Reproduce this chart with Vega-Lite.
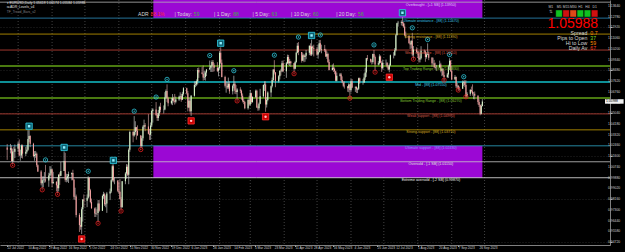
{
"$schema":"https://vega.github.io/schema/vega-lite/v6.json",
"width":610,"height":245,"autosize":{"type":"none"},"padding":{"left":0,"top":0,"right":15,"bottom":7},
"background":"#000000",
"config":{"view":{"stroke":null},"text":{"font":"Liberation Sans"},"axis":{"labelFont":"Liberation Sans","labelFontSize":3.4,"labelColor":"#d0d0d0","labelPadding":1,"tickSize":2,"tickColor":"#a0a0a0","domainColor":"#a0a0a0","domainWidth":0.8,"labelOverlap":false,"labelSeparation":0}},
"resolve":{"scale":{"color":"independent"}},
"datasets":{
"candles":[
{"d":"2022-07-22","o":1.0230,"h":1.0257,"l":1.0130,"c":1.0212},
{"d":"2022-07-25","o":1.0212,"h":1.0258,"l":1.0182,"c":1.0223},
{"d":"2022-07-26","o":1.0223,"h":1.0247,"l":1.0117,"c":1.0121},
{"d":"2022-07-27","o":1.0121,"h":1.0220,"l":1.0097,"c":1.0198},
{"d":"2022-07-28","o":1.0198,"h":1.0235,"l":1.0114,"c":1.0196},
{"d":"2022-07-29","o":1.0196,"h":1.0254,"l":1.0145,"c":1.0220},
{"d":"2022-08-01","o":1.0220,"h":1.0274,"l":1.0194,"c":1.0260},
{"d":"2022-08-02","o":1.0260,"h":1.0294,"l":1.0160,"c":1.0165},
{"d":"2022-08-03","o":1.0165,"h":1.0212,"l":1.0123,"c":1.0166},
{"d":"2022-08-04","o":1.0166,"h":1.0254,"l":1.0146,"c":1.0246},
{"d":"2022-08-05","o":1.0246,"h":1.0253,"l":1.0141,"c":1.0180},
{"d":"2022-08-08","o":1.0180,"h":1.0235,"l":1.0160,"c":1.0196},
{"d":"2022-08-09","o":1.0196,"h":1.0248,"l":1.0181,"c":1.0211},
{"d":"2022-08-10","o":1.0211,"h":1.0368,"l":1.0202,"c":1.0298},
{"d":"2022-08-11","o":1.0298,"h":1.0368,"l":1.0272,"c":1.0321},
{"d":"2022-08-12","o":1.0321,"h":1.0328,"l":1.0232,"c":1.0259},
{"d":"2022-08-15","o":1.0259,"h":1.0267,"l":1.0151,"c":1.0161},
{"d":"2022-08-16","o":1.0161,"h":1.0201,"l":1.0123,"c":1.0171},
{"d":"2022-08-17","o":1.0171,"h":1.0202,"l":1.0147,"c":1.0179},
{"d":"2022-08-18","o":1.0179,"h":1.0190,"l":1.0072,"c":1.0087},
{"d":"2022-08-19","o":1.0087,"h":1.0094,"l":1.0033,"c":1.0038},
{"d":"2022-08-22","o":1.0038,"h":1.0048,"l":0.9926,"c":0.9943},
{"d":"2022-08-23","o":0.9943,"h":0.9998,"l":0.9900,"c":0.9967},
{"d":"2022-08-24","o":0.9967,"h":0.9999,"l":0.9910,"c":0.9971},
{"d":"2022-08-25","o":0.9971,"h":1.0032,"l":0.9947,"c":0.9973},
{"d":"2022-08-26","o":0.9973,"h":1.0090,"l":0.9950,"c":0.9965},
{"d":"2022-08-29","o":0.9965,"h":1.0027,"l":0.9914,"c":1.0004},
{"d":"2022-08-30","o":1.0004,"h":1.0080,"l":0.9982,"c":1.0020},
{"d":"2022-08-31","o":1.0020,"h":1.0079,"l":1.0004,"c":1.0055},
{"d":"2022-09-01","o":1.0055,"h":1.0055,"l":0.9910,"c":0.9944},
{"d":"2022-09-02","o":0.9944,"h":1.0034,"l":0.9937,"c":0.9953},
{"d":"2022-09-05","o":0.9953,"h":0.9960,"l":0.9877,"c":0.9926},
{"d":"2022-09-06","o":0.9926,"h":0.9990,"l":0.9864,"c":0.9902},
{"d":"2022-09-07","o":0.9902,"h":1.0012,"l":0.9877,"c":1.0012},
{"d":"2022-09-08","o":1.0012,"h":1.0030,"l":0.9930,"c":1.0003},
{"d":"2022-09-09","o":1.0003,"h":1.0113,"l":1.0000,"c":1.0042},
{"d":"2022-09-12","o":1.0042,"h":1.0198,"l":1.0042,"c":1.0121},
{"d":"2022-09-13","o":1.0121,"h":1.0187,"l":0.9955,"c":0.9971},
{"d":"2022-09-14","o":0.9971,"h":1.0019,"l":0.9950,"c":0.9982},
{"d":"2022-09-15","o":0.9982,"h":1.0017,"l":0.9955,"c":0.9999},
{"d":"2022-09-16","o":0.9999,"h":1.0036,"l":0.9945,"c":1.0015},
{"d":"2022-09-19","o":1.0015,"h":1.0030,"l":0.9966,"c":1.0025},
{"d":"2022-09-20","o":1.0025,"h":1.0051,"l":0.9966,"c":0.9970},
{"d":"2022-09-21","o":0.9970,"h":0.9976,"l":0.9812,"c":0.9834},
{"d":"2022-09-22","o":0.9834,"h":0.9907,"l":0.9808,"c":0.9837},
{"d":"2022-09-23","o":0.9837,"h":0.9852,"l":0.9669,"c":0.9689},
{"d":"2022-09-26","o":0.9689,"h":0.9703,"l":0.9552,"c":0.9607},
{"d":"2022-09-27","o":0.9607,"h":0.9671,"l":0.9570,"c":0.9594},
{"d":"2022-09-28","o":0.9594,"h":0.9750,"l":0.9536,"c":0.9735},
{"d":"2022-09-29","o":0.9735,"h":0.9815,"l":0.9635,"c":0.9813},
{"d":"2022-09-30","o":0.9813,"h":0.9853,"l":0.9752,"c":0.9802},
{"d":"2022-10-03","o":0.9802,"h":0.9853,"l":0.9751,"c":0.9826},
{"d":"2022-10-04","o":0.9826,"h":0.9999,"l":0.9818,"c":0.9986},
{"d":"2022-10-05","o":0.9986,"h":0.9992,"l":0.9836,"c":0.9886},
{"d":"2022-10-06","o":0.9886,"h":0.9898,"l":0.9782,"c":0.9792},
{"d":"2022-10-07","o":0.9792,"h":0.9820,"l":0.9740,"c":0.9741},
{"d":"2022-10-10","o":0.9741,"h":0.9748,"l":0.9672,"c":0.9700},
{"d":"2022-10-11","o":0.9700,"h":0.9750,"l":0.9672,"c":0.9705},
{"d":"2022-10-12","o":0.9705,"h":0.9734,"l":0.9688,"c":0.9704},
{"d":"2022-10-13","o":0.9704,"h":0.9808,"l":0.9632,"c":0.9781},
{"d":"2022-10-14","o":0.9781,"h":0.9808,"l":0.9714,"c":0.9722},
{"d":"2022-10-17","o":0.9722,"h":0.9852,"l":0.9720,"c":0.9840},
{"d":"2022-10-18","o":0.9840,"h":0.9874,"l":0.9818,"c":0.9855},
{"d":"2022-10-19","o":0.9855,"h":0.9866,"l":0.9760,"c":0.9774},
{"d":"2022-10-20","o":0.9774,"h":0.9845,"l":0.9750,"c":0.9781},
{"d":"2022-10-21","o":0.9781,"h":0.9873,"l":0.9705,"c":0.9861},
{"d":"2022-10-24","o":0.9861,"h":0.9900,"l":0.9808,"c":0.9876},
{"d":"2022-10-25","o":0.9876,"h":0.9976,"l":0.9864,"c":0.9966},
{"d":"2022-10-26","o":0.9966,"h":1.0093,"l":0.9956,"c":1.0079},
{"d":"2022-10-27","o":1.0079,"h":1.0094,"l":0.9950,"c":0.9964},
{"d":"2022-10-28","o":0.9964,"h":0.9990,"l":0.9935,"c":0.9965},
{"d":"2022-10-31","o":0.9965,"h":0.9966,"l":0.9871,"c":0.9883},
{"d":"2022-11-01","o":0.9883,"h":0.9954,"l":0.9857,"c":0.9875},
{"d":"2022-11-02","o":0.9875,"h":0.9976,"l":0.9815,"c":0.9815},
{"d":"2022-11-03","o":0.9815,"h":0.9832,"l":0.9730,"c":0.9751},
{"d":"2022-11-04","o":0.9751,"h":0.9961,"l":0.9747,"c":0.9959},
{"d":"2022-11-07","o":0.9959,"h":1.0032,"l":0.9935,"c":1.0021},
{"d":"2022-11-08","o":1.0021,"h":1.0096,"l":0.9979,"c":1.0075},
{"d":"2022-11-09","o":1.0075,"h":1.0093,"l":1.0000,"c":1.0011},
{"d":"2022-11-10","o":1.0011,"h":1.0223,"l":0.9935,"c":1.0211},
{"d":"2022-11-11","o":1.0211,"h":1.0365,"l":1.0195,"c":1.0353},
{"d":"2022-11-14","o":1.0353,"h":1.0364,"l":1.0271,"c":1.0325},
{"d":"2022-11-15","o":1.0325,"h":1.0481,"l":1.0316,"c":1.0353},
{"d":"2022-11-16","o":1.0353,"h":1.0440,"l":1.0332,"c":1.0392},
{"d":"2022-11-17","o":1.0392,"h":1.0394,"l":1.0292,"c":1.0363},
{"d":"2022-11-18","o":1.0363,"h":1.0407,"l":1.0325,"c":1.0326},
{"d":"2022-11-21","o":1.0326,"h":1.0330,"l":1.0223,"c":1.0242},
{"d":"2022-11-22","o":1.0242,"h":1.0322,"l":1.0226,"c":1.0303},
{"d":"2022-11-23","o":1.0303,"h":1.0407,"l":1.0283,"c":1.0396},
{"d":"2022-11-24","o":1.0396,"h":1.0453,"l":1.0378,"c":1.0407},
{"d":"2022-11-25","o":1.0407,"h":1.0425,"l":1.0360,"c":1.0398},
{"d":"2022-11-28","o":1.0398,"h":1.0497,"l":1.0334,"c":1.0340},
{"d":"2022-11-29","o":1.0340,"h":1.0379,"l":1.0290,"c":1.0331},
{"d":"2022-11-30","o":1.0331,"h":1.0430,"l":1.0290,"c":1.0405},
{"d":"2022-12-01","o":1.0405,"h":1.0534,"l":1.0395,"c":1.0522},
{"d":"2022-12-02","o":1.0522,"h":1.0545,"l":1.0429,"c":1.0535},
{"d":"2022-12-05","o":1.0535,"h":1.0594,"l":1.0482,"c":1.0490},
{"d":"2022-12-06","o":1.0490,"h":1.0505,"l":1.0443,"c":1.0467},
{"d":"2022-12-07","o":1.0467,"h":1.0530,"l":1.0443,"c":1.0505},
{"d":"2022-12-08","o":1.0505,"h":1.0564,"l":1.0481,"c":1.0555},
{"d":"2022-12-09","o":1.0555,"h":1.0588,"l":1.0511,"c":1.0532},
{"d":"2022-12-12","o":1.0532,"h":1.0567,"l":1.0502,"c":1.0535},
{"d":"2022-12-13","o":1.0535,"h":1.0673,"l":1.0528,"c":1.0631},
{"d":"2022-12-14","o":1.0631,"h":1.0695,"l":1.0621,"c":1.0682},
{"d":"2022-12-15","o":1.0682,"h":1.0736,"l":1.0594,"c":1.0625},
{"d":"2022-12-16","o":1.0625,"h":1.0637,"l":1.0560,"c":1.0585},
{"d":"2022-12-19","o":1.0585,"h":1.0628,"l":1.0574,"c":1.0605},
{"d":"2022-12-20","o":1.0605,"h":1.0658,"l":1.0569,"c":1.0624},
{"d":"2022-12-21","o":1.0624,"h":1.0636,"l":1.0590,"c":1.0604},
{"d":"2022-12-22","o":1.0604,"h":1.0659,"l":1.0574,"c":1.0596},
{"d":"2022-12-23","o":1.0596,"h":1.0638,"l":1.0584,"c":1.0614},
{"d":"2022-12-26","o":1.0614,"h":1.0645,"l":1.0603,"c":1.0637},
{"d":"2022-12-27","o":1.0637,"h":1.0672,"l":1.0619,"c":1.0640},
{"d":"2022-12-28","o":1.0640,"h":1.0659,"l":1.0596,"c":1.0613},
{"d":"2022-12-29","o":1.0613,"h":1.0676,"l":1.0612,"c":1.0660},
{"d":"2022-12-30","o":1.0660,"h":1.0713,"l":1.0646,"c":1.0705},
{"d":"2023-01-02","o":1.0705,"h":1.0709,"l":1.0654,"c":1.0665},
{"d":"2023-01-03","o":1.0665,"h":1.0683,"l":1.0519,"c":1.0550},
{"d":"2023-01-04","o":1.0550,"h":1.0630,"l":1.0545,"c":1.0604},
{"d":"2023-01-05","o":1.0604,"h":1.0622,"l":1.0510,"c":1.0520},
{"d":"2023-01-06","o":1.0520,"h":1.0650,"l":1.0483,"c":1.0645},
{"d":"2023-01-09","o":1.0645,"h":1.0760,"l":1.0637,"c":1.0730},
{"d":"2023-01-10","o":1.0730,"h":1.0760,"l":1.0713,"c":1.0735},
{"d":"2023-01-11","o":1.0735,"h":1.0776,"l":1.0722,"c":1.0760},
{"d":"2023-01-12","o":1.0760,"h":1.0867,"l":1.0735,"c":1.0850},
{"d":"2023-01-13","o":1.0850,"h":1.0871,"l":1.0788,"c":1.0830},
{"d":"2023-01-16","o":1.0830,"h":1.0874,"l":1.0816,"c":1.0820},
{"d":"2023-01-17","o":1.0820,"h":1.0887,"l":1.0766,"c":1.0790},
{"d":"2023-01-18","o":1.0790,"h":1.0845,"l":1.0771,"c":1.0795},
{"d":"2023-01-19","o":1.0795,"h":1.0842,"l":1.0766,"c":1.0830},
{"d":"2023-01-20","o":1.0830,"h":1.0858,"l":1.0802,"c":1.0855},
{"d":"2023-01-23","o":1.0855,"h":1.0927,"l":1.0853,"c":1.0870},
{"d":"2023-01-24","o":1.0870,"h":1.0890,"l":1.0835,"c":1.0885},
{"d":"2023-01-25","o":1.0885,"h":1.0929,"l":1.0835,"c":1.0915},
{"d":"2023-01-26","o":1.0915,"h":1.0931,"l":1.0836,"c":1.0890},
{"d":"2023-01-27","o":1.0890,"h":1.0905,"l":1.0840,"c":1.0870},
{"d":"2023-01-30","o":1.0870,"h":1.0914,"l":1.0834,"c":1.0845},
{"d":"2023-01-31","o":1.0845,"h":1.0875,"l":1.0800,"c":1.0865},
{"d":"2023-02-01","o":1.0865,"h":1.1000,"l":1.0855,"c":1.0990},
{"d":"2023-02-02","o":1.0990,"h":1.1033,"l":1.0900,"c":1.0910},
{"d":"2023-02-03","o":1.0910,"h":1.0935,"l":1.0792,"c":1.0795},
{"d":"2023-02-06","o":1.0795,"h":1.0805,"l":1.0710,"c":1.0725},
{"d":"2023-02-07","o":1.0725,"h":1.0760,"l":1.0669,"c":1.0725},
{"d":"2023-02-08","o":1.0725,"h":1.0755,"l":1.0698,"c":1.0710},
{"d":"2023-02-09","o":1.0710,"h":1.0790,"l":1.0698,"c":1.0740},
{"d":"2023-02-10","o":1.0740,"h":1.0760,"l":1.0660,"c":1.0680},
{"d":"2023-02-13","o":1.0680,"h":1.0735,"l":1.0655,"c":1.0725},
{"d":"2023-02-14","o":1.0725,"h":1.0805,"l":1.0704,"c":1.0740},
{"d":"2023-02-15","o":1.0740,"h":1.0758,"l":1.0660,"c":1.0685},
{"d":"2023-02-16","o":1.0685,"h":1.0730,"l":1.0657,"c":1.0675},
{"d":"2023-02-17","o":1.0675,"h":1.0705,"l":1.0613,"c":1.0695},
{"d":"2023-02-20","o":1.0695,"h":1.0713,"l":1.0665,"c":1.0685},
{"d":"2023-02-21","o":1.0685,"h":1.0694,"l":1.0612,"c":1.0645},
{"d":"2023-02-22","o":1.0645,"h":1.0663,"l":1.0591,"c":1.0605},
{"d":"2023-02-23","o":1.0605,"h":1.0622,"l":1.0577,"c":1.0595},
{"d":"2023-02-24","o":1.0595,"h":1.0604,"l":1.0536,"c":1.0545},
{"d":"2023-02-27","o":1.0545,"h":1.0622,"l":1.0533,"c":1.0610},
{"d":"2023-02-28","o":1.0610,"h":1.0645,"l":1.0564,"c":1.0575},
{"d":"2023-03-01","o":1.0575,"h":1.0691,"l":1.0565,"c":1.0665},
{"d":"2023-03-02","o":1.0665,"h":1.0669,"l":1.0580,"c":1.0595},
{"d":"2023-03-03","o":1.0595,"h":1.0640,"l":1.0588,"c":1.0635},
{"d":"2023-03-06","o":1.0635,"h":1.0694,"l":1.0626,"c":1.0685},
{"d":"2023-03-07","o":1.0685,"h":1.0693,"l":1.0547,"c":1.0550},
{"d":"2023-03-08","o":1.0550,"h":1.0565,"l":1.0524,"c":1.0545},
{"d":"2023-03-09","o":1.0545,"h":1.0590,"l":1.0527,"c":1.0580},
{"d":"2023-03-10","o":1.0580,"h":1.0700,"l":1.0576,"c":1.0640},
{"d":"2023-03-13","o":1.0640,"h":1.0735,"l":1.0630,"c":1.0730},
{"d":"2023-03-14","o":1.0730,"h":1.0760,"l":1.0683,"c":1.0735},
{"d":"2023-03-15","o":1.0735,"h":1.0760,"l":1.0516,"c":1.0575},
{"d":"2023-03-16","o":1.0575,"h":1.0633,"l":1.0550,"c":1.0610},
{"d":"2023-03-17","o":1.0610,"h":1.0680,"l":1.0600,"c":1.0670},
{"d":"2023-03-20","o":1.0670,"h":1.0727,"l":1.0635,"c":1.0720},
{"d":"2023-03-21","o":1.0720,"h":1.0790,"l":1.0710,"c":1.0770},
{"d":"2023-03-22","o":1.0770,"h":1.0856,"l":1.0757,"c":1.0855},
{"d":"2023-03-23","o":1.0855,"h":1.0930,"l":1.0815,"c":1.0830},
{"d":"2023-03-24","o":1.0830,"h":1.0835,"l":1.0713,"c":1.0760},
{"d":"2023-03-27","o":1.0760,"h":1.0810,"l":1.0750,"c":1.0800},
{"d":"2023-03-28","o":1.0800,"h":1.0847,"l":1.0775,"c":1.0845},
{"d":"2023-03-29","o":1.0845,"h":1.0860,"l":1.0807,"c":1.0840},
{"d":"2023-03-30","o":1.0840,"h":1.0925,"l":1.0833,"c":1.0905},
{"d":"2023-03-31","o":1.0905,"h":1.0927,"l":1.0835,"c":1.0840},
{"d":"2023-04-03","o":1.0840,"h":1.0915,"l":1.0788,"c":1.0905},
{"d":"2023-04-04","o":1.0905,"h":1.0974,"l":1.0898,"c":1.0955},
{"d":"2023-04-05","o":1.0955,"h":1.0972,"l":1.0893,"c":1.0905},
{"d":"2023-04-06","o":1.0905,"h":1.0940,"l":1.0883,"c":1.0920},
{"d":"2023-04-07","o":1.0920,"h":1.0925,"l":1.0876,"c":1.0905},
{"d":"2023-04-10","o":1.0905,"h":1.0907,"l":1.0831,"c":1.0860},
{"d":"2023-04-11","o":1.0860,"h":1.0925,"l":1.0856,"c":1.0915},
{"d":"2023-04-12","o":1.0915,"h":1.0998,"l":1.0905,"c":1.0990},
{"d":"2023-04-13","o":1.0990,"h":1.1068,"l":1.0985,"c":1.1045},
{"d":"2023-04-14","o":1.1045,"h":1.1075,"l":1.0970,"c":1.0995},
{"d":"2023-04-17","o":1.0995,"h":1.0996,"l":1.0910,"c":1.0925},
{"d":"2023-04-18","o":1.0925,"h":1.0985,"l":1.0925,"c":1.0970},
{"d":"2023-04-19","o":1.0970,"h":1.0980,"l":1.0913,"c":1.0955},
{"d":"2023-04-20","o":1.0955,"h":1.0975,"l":1.0917,"c":1.0965},
{"d":"2023-04-21","o":1.0965,"h":1.1012,"l":1.0937,"c":1.0990},
{"d":"2023-04-24","o":1.0990,"h":1.1048,"l":1.0970,"c":1.1045},
{"d":"2023-04-25","o":1.1045,"h":1.1065,"l":1.0965,"c":1.0975},
{"d":"2023-04-26","o":1.0975,"h":1.1095,"l":1.0963,"c":1.1040},
{"d":"2023-04-27","o":1.1040,"h":1.1047,"l":1.0975,"c":1.1025},
{"d":"2023-04-28","o":1.1025,"h":1.1054,"l":1.0960,"c":1.1020},
{"d":"2023-05-01","o":1.1020,"h":1.1036,"l":1.0965,"c":1.0975},
{"d":"2023-05-02","o":1.0975,"h":1.1056,"l":1.0942,"c":1.0995},
{"d":"2023-05-03","o":1.0995,"h":1.1091,"l":1.0990,"c":1.1065},
{"d":"2023-05-04","o":1.1065,"h":1.1092,"l":1.1000,"c":1.1015},
{"d":"2023-05-05","o":1.1015,"h":1.1054,"l":1.0985,"c":1.1020},
{"d":"2023-05-08","o":1.1020,"h":1.1052,"l":1.0995,"c":1.1010},
{"d":"2023-05-09","o":1.1010,"h":1.1021,"l":1.0955,"c":1.0960},
{"d":"2023-05-10","o":1.0960,"h":1.1000,"l":1.0940,"c":1.0980},
{"d":"2023-05-11","o":1.0980,"h":1.0989,"l":1.0907,"c":1.0915},
{"d":"2023-05-12","o":1.0915,"h":1.0935,"l":1.0847,"c":1.0850},
{"d":"2023-05-15","o":1.0850,"h":1.0895,"l":1.0847,"c":1.0870},
{"d":"2023-05-16","o":1.0870,"h":1.0904,"l":1.0835,"c":1.0860},
{"d":"2023-05-17","o":1.0860,"h":1.0872,"l":1.0817,"c":1.0840},
{"d":"2023-05-18","o":1.0840,"h":1.0846,"l":1.0760,"c":1.0765},
{"d":"2023-05-19","o":1.0765,"h":1.0830,"l":1.0760,"c":1.0805},
{"d":"2023-05-22","o":1.0805,"h":1.0827,"l":1.0799,"c":1.0815},
{"d":"2023-05-23","o":1.0815,"h":1.0828,"l":1.0760,"c":1.0770},
{"d":"2023-05-24","o":1.0770,"h":1.0800,"l":1.0745,"c":1.0750},
{"d":"2023-05-25","o":1.0750,"h":1.0760,"l":1.0713,"c":1.0725},
{"d":"2023-05-26","o":1.0725,"h":1.0760,"l":1.0702,"c":1.0720},
{"d":"2023-05-29","o":1.0720,"h":1.0720,"l":1.0676,"c":1.0705},
{"d":"2023-05-30","o":1.0705,"h":1.0745,"l":1.0673,"c":1.0735},
{"d":"2023-05-31","o":1.0735,"h":1.0740,"l":1.0635,"c":1.0690},
{"d":"2023-06-01","o":1.0690,"h":1.0780,"l":1.0672,"c":1.0760},
{"d":"2023-06-02","o":1.0760,"h":1.0779,"l":1.0705,"c":1.0710},
{"d":"2023-06-05","o":1.0710,"h":1.0720,"l":1.0675,"c":1.0715},
{"d":"2023-06-06","o":1.0715,"h":1.0720,"l":1.0667,"c":1.0695},
{"d":"2023-06-07","o":1.0695,"h":1.0710,"l":1.0666,"c":1.0700},
{"d":"2023-06-08","o":1.0700,"h":1.0790,"l":1.0690,"c":1.0785},
{"d":"2023-06-09","o":1.0785,"h":1.0790,"l":1.0740,"c":1.0750},
{"d":"2023-06-12","o":1.0750,"h":1.0780,"l":1.0733,"c":1.0750},
{"d":"2023-06-13","o":1.0750,"h":1.0823,"l":1.0748,"c":1.0790},
{"d":"2023-06-14","o":1.0790,"h":1.0865,"l":1.0772,"c":1.0830},
{"d":"2023-06-15","o":1.0830,"h":1.0948,"l":1.0796,"c":1.0945},
{"d":"2023-06-16","o":1.0945,"h":1.0971,"l":1.0926,"c":1.0940},
{"d":"2023-06-19","o":1.0940,"h":1.0943,"l":1.0910,"c":1.0920},
{"d":"2023-06-20","o":1.0920,"h":1.0935,"l":1.0895,"c":1.0915},
{"d":"2023-06-21","o":1.0915,"h":1.0982,"l":1.0902,"c":1.0980},
{"d":"2023-06-22","o":1.0980,"h":1.1012,"l":1.0945,"c":1.0955},
{"d":"2023-06-23","o":1.0955,"h":1.0967,"l":1.0844,"c":1.0895},
{"d":"2023-06-26","o":1.0895,"h":1.0922,"l":1.0888,"c":1.0905},
{"d":"2023-06-27","o":1.0905,"h":1.0977,"l":1.0894,"c":1.0960},
{"d":"2023-06-28","o":1.0960,"h":1.0968,"l":1.0906,"c":1.0910},
{"d":"2023-06-29","o":1.0910,"h":1.0922,"l":1.0835,"c":1.0865},
{"d":"2023-06-30","o":1.0865,"h":1.0934,"l":1.0854,"c":1.0910},
{"d":"2023-07-03","o":1.0910,"h":1.0935,"l":1.0887,"c":1.0910},
{"d":"2023-07-04","o":1.0910,"h":1.0913,"l":1.0868,"c":1.0880},
{"d":"2023-07-05","o":1.0880,"h":1.0890,"l":1.0850,"c":1.0855},
{"d":"2023-07-06","o":1.0855,"h":1.0903,"l":1.0833,"c":1.0890},
{"d":"2023-07-07","o":1.0890,"h":1.0975,"l":1.0883,"c":1.0970},
{"d":"2023-07-10","o":1.0970,"h":1.0994,"l":1.0944,"c":1.0970},
{"d":"2023-07-11","o":1.0970,"h":1.1027,"l":1.0963,"c":1.1010},
{"d":"2023-07-12","o":1.1010,"h":1.1139,"l":1.1000,"c":1.1130},
{"d":"2023-07-13","o":1.1130,"h":1.1230,"l":1.1128,"c":1.1225},
{"d":"2023-07-14","o":1.1225,"h":1.1245,"l":1.1199,"c":1.1230},
{"d":"2023-07-17","o":1.1230,"h":1.1249,"l":1.1208,"c":1.1235},
{"d":"2023-07-18","o":1.1235,"h":1.1276,"l":1.1202,"c":1.1225},
{"d":"2023-07-19","o":1.1225,"h":1.1236,"l":1.1190,"c":1.1200},
{"d":"2023-07-20","o":1.1200,"h":1.1224,"l":1.1122,"c":1.1130},
{"d":"2023-07-21","o":1.1130,"h":1.1159,"l":1.1105,"c":1.1125},
{"d":"2023-07-24","o":1.1125,"h":1.1129,"l":1.1063,"c":1.1065},
{"d":"2023-07-25","o":1.1065,"h":1.1080,"l":1.1019,"c":1.1055},
{"d":"2023-07-26","o":1.1055,"h":1.1088,"l":1.1024,"c":1.1085},
{"d":"2023-07-27","o":1.1085,"h":1.1149,"l":1.0961,"c":1.0975},
{"d":"2023-07-28","o":1.0975,"h":1.1043,"l":1.0944,"c":1.1015},
{"d":"2023-07-31","o":1.1015,"h":1.1033,"l":1.0983,"c":1.0995},
{"d":"2023-08-01","o":1.0995,"h":1.1001,"l":1.0947,"c":1.0985},
{"d":"2023-08-02","o":1.0985,"h":1.1004,"l":1.0912,"c":1.0935},
{"d":"2023-08-03","o":1.0935,"h":1.0960,"l":1.0912,"c":1.0945},
{"d":"2023-08-04","o":1.0945,"h":1.1042,"l":1.0935,"c":1.1005},
{"d":"2023-08-07","o":1.1005,"h":1.1015,"l":1.0983,"c":1.1000},
{"d":"2023-08-08","o":1.1000,"h":1.1008,"l":1.0917,"c":1.0955},
{"d":"2023-08-09","o":1.0955,"h":1.0991,"l":1.0942,"c":1.0975},
{"d":"2023-08-10","o":1.0975,"h":1.1065,"l":1.0970,"c":1.0980},
{"d":"2023-08-11","o":1.0980,"h":1.1000,"l":1.0930,"c":1.0950},
{"d":"2023-08-14","o":1.0950,"h":1.0955,"l":1.0877,"c":1.0905},
{"d":"2023-08-15","o":1.0905,"h":1.0950,"l":1.0894,"c":1.0905},
{"d":"2023-08-16","o":1.0905,"h":1.0932,"l":1.0865,"c":1.0875},
{"d":"2023-08-17","o":1.0875,"h":1.0910,"l":1.0855,"c":1.0870},
{"d":"2023-08-18","o":1.0870,"h":1.0892,"l":1.0845,"c":1.0870},
{"d":"2023-08-21","o":1.0870,"h":1.0926,"l":1.0875,"c":1.0895},
{"d":"2023-08-22","o":1.0895,"h":1.0909,"l":1.0832,"c":1.0845},
{"d":"2023-08-23","o":1.0845,"h":1.0864,"l":1.0802,"c":1.0860},
{"d":"2023-08-24","o":1.0860,"h":1.0865,"l":1.0800,"c":1.0810},
{"d":"2023-08-25","o":1.0810,"h":1.0840,"l":1.0766,"c":1.0795},
{"d":"2023-08-28","o":1.0795,"h":1.0827,"l":1.0786,"c":1.0815},
{"d":"2023-08-29","o":1.0815,"h":1.0893,"l":1.0787,"c":1.0880},
{"d":"2023-08-30","o":1.0880,"h":1.0945,"l":1.0850,"c":1.0925},
{"d":"2023-08-31","o":1.0925,"h":1.0930,"l":1.0835,"c":1.0845},
{"d":"2023-09-01","o":1.0845,"h":1.0882,"l":1.0769,"c":1.0775},
{"d":"2023-09-04","o":1.0775,"h":1.0810,"l":1.0775,"c":1.0795},
{"d":"2023-09-05","o":1.0795,"h":1.0799,"l":1.0706,"c":1.0720},
{"d":"2023-09-06","o":1.0720,"h":1.0748,"l":1.0703,"c":1.0725},
{"d":"2023-09-07","o":1.0725,"h":1.0730,"l":1.0686,"c":1.0700},
{"d":"2023-09-08","o":1.0700,"h":1.0718,"l":1.0686,"c":1.0700},
{"d":"2023-09-11","o":1.0700,"h":1.0767,"l":1.0700,"c":1.0750},
{"d":"2023-09-12","o":1.0750,"h":1.0765,"l":1.0722,"c":1.0755},
{"d":"2023-09-13","o":1.0755,"h":1.0770,"l":1.0714,"c":1.0730},
{"d":"2023-09-14","o":1.0730,"h":1.0768,"l":1.0631,"c":1.0640},
{"d":"2023-09-15","o":1.0640,"h":1.0674,"l":1.0632,"c":1.0660},
{"d":"2023-09-18","o":1.0660,"h":1.0698,"l":1.0644,"c":1.0690},
{"d":"2023-09-19","o":1.0690,"h":1.0718,"l":1.0670,"c":1.0680},
{"d":"2023-09-20","o":1.0680,"h":1.0736,"l":1.0645,"c":1.0660},
{"d":"2023-09-21","o":1.0660,"h":1.0675,"l":1.0617,"c":1.0660},
{"d":"2023-09-22","o":1.0660,"h":1.0679,"l":1.0615,"c":1.0645},
{"d":"2023-09-25","o":1.0645,"h":1.0649,"l":1.0574,"c":1.0595},
{"d":"2023-09-26","o":1.0595,"h":1.0616,"l":1.0554,"c":1.0570},
{"d":"2023-09-27","o":1.0570,"h":1.0574,"l":1.0488,"c":1.0500},
{"d":"2023-09-28","o":1.0500,"h":1.0576,"l":1.0495,"c":1.0562},
{"d":"2023-09-29","o":1.05618,"h":1.06174,"l":1.05584,"c":1.05988}
],
"levels":[
{"p":1.1395,"k":"ob","label":"Overbought - [+1 SB] (1.13950)"},
{"p":1.1267,"k":"ur","label":"Ultimate resistance - [88] (1.12670)"},
{"p":1.1139,"k":"sr","label":"Strong resistance - [88] (1.11390)"},
{"p":1.1011,"k":"wr","label":"Weak resistance - [88] (1.10110)"},
{"p":1.0883,"k":"tr","label":"Top Trading Range - [88] (1.08830)"},
{"p":1.0755,"k":"mid","label":"Mid - [88] (1.07550)"},
{"p":1.0627,"k":"tr","label":"Bottom Trading Range - [88] (1.06270)"},
{"p":1.0499,"k":"wr","label":"Weak support - [88] (1.04990)"},
{"p":1.0371,"k":"sr","label":"Strong support - [88] (1.03710)"},
{"p":1.0243,"k":"us","label":"Ultimate support - [88] (1.02430)"},
{"p":1.0115,"k":"os","label":"Oversold - [-1 SB] (1.01150)"},
{"p":0.9987,"k":"eos","label":"Extreme oversold - [-2 SB] (0.99870)"}
],
"zones":[
{"d1":"2022-12-02T12:00","d2":"2023-09-29","p1":1.1267,"p2":1.1523},
{"d1":"2022-12-02T12:00","d2":"2023-09-29","p1":1.0243,"p2":0.9987}
],
"months":[
{"d":"2022-08-01"},{"d":"2022-09-01"},{"d":"2022-10-01"},{"d":"2022-11-01"},{"d":"2022-12-01"},
{"d":"2023-01-01"},{"d":"2023-02-01"},{"d":"2023-03-01"},{"d":"2023-04-01"},{"d":"2023-05-01"},
{"d":"2023-06-01"},{"d":"2023-07-01"},{"d":"2023-08-01"},{"d":"2023-09-01"},{"d":"2023-10-01"}
],
"xlabels":[
{"d":"2022-07-22"},{"d":"2022-08-10"},{"d":"2022-08-29"},{"d":"2022-09-16"},{"d":"2022-10-05"},{"d":"2022-10-24"},
{"d":"2022-11-11"},{"d":"2022-11-30"},{"d":"2022-12-19"},{"d":"2023-01-06"},{"d":"2023-01-26"},{"d":"2023-02-14"},
{"d":"2023-03-05"},{"d":"2023-03-23"},{"d":"2023-04-11"},{"d":"2023-04-28"},{"d":"2023-05-16"},{"d":"2023-06-04"},
{"d":"2023-06-25"},{"d":"2023-07-12"},{"d":"2023-08-01"},{"d":"2023-08-20"},{"d":"2023-09-07"},{"d":"2023-09-26"}
],
"ylabels":[
{"p":1.1364},{"p":1.1278},{"p":1.1192},{"p":1.1106},{"p":1.1020},{"p":1.0934},{"p":1.0848},{"p":1.0762},
{"p":1.0676},{"p":1.0590},{"p":1.0504},{"p":1.0418},{"p":1.0332},{"p":1.0246},{"p":1.0160},{"p":1.0074},
{"p":0.9988},{"p":0.9902},{"p":0.9816},{"p":0.9730},{"p":0.9644},{"p":0.9558},{"p":0.9472}
],
"marks":[
{"d":"2022-08-26","p":1.0130,"k":"hi"},
{"d":"2022-10-04","p":1.0039,"k":"hi"},
{"d":"2022-11-15","p":1.0521,"k":"hi"},
{"d":"2022-12-05","p":1.0634,"k":"hi"},
{"d":"2022-12-15","p":1.0776,"k":"hi"},
{"d":"2023-01-23","p":1.0967,"k":"hi"},
{"d":"2023-02-14","p":1.0845,"k":"hi"},
{"d":"2023-03-23","p":1.0970,"k":"hi"},
{"d":"2023-04-14","p":1.1115,"k":"hi"},
{"d":"2023-05-04","p":1.1132,"k":"hi"},
{"d":"2023-06-22","p":1.1052,"k":"hi"},
{"d":"2023-07-27","p":1.1189,"k":"hi"},
{"d":"2023-08-10","p":1.1095,"k":"hi"},
{"d":"2023-08-30","p":1.0975,"k":"hi"},
{"d":"2023-09-12","p":1.0797,"k":"hi"},
{"d":"2022-07-27","p":1.0087,"k":"lo"},
{"d":"2022-08-23","p":0.9890,"k":"lo"},
{"d":"2022-09-06","p":0.9854,"k":"lo"},
{"d":"2022-10-13","p":0.9622,"k":"lo"},
{"d":"2022-11-03","p":0.9720,"k":"lo"},
{"d":"2022-11-21","p":1.0213,"k":"lo"},
{"d":"2023-02-17","p":1.0603,"k":"lo"},
{"d":"2023-04-10","p":1.0821,"k":"lo"},
{"d":"2023-05-31","p":1.0625,"k":"lo"},
{"d":"2023-06-23","p":1.0834,"k":"lo"},
{"d":"2023-07-28","p":1.0938,"k":"lo"},
{"d":"2023-08-25","p":1.0770,"k":"lo"},
{"d":"2023-09-07","p":1.0690,"k":"lo"},
{"d":"2023-09-14","p":1.0636,"k":"lo"},
{"d":"2022-08-11","p":1.0400,"k":"hibox"},
{"d":"2022-09-12","p":1.0230,"k":"hibox"},
{"d":"2022-10-27","p":1.0126,"k":"hibox"},
{"d":"2023-02-02","p":1.1066,"k":"hibox"},
{"d":"2023-04-26","p":1.1128,"k":"hibox"},
{"d":"2023-07-18","p":1.1310,"k":"hibox"},
{"d":"2022-09-28","p":0.9496,"k":"lobox"},
{"d":"2023-01-06","p":1.0443,"k":"lobox"},
{"d":"2023-03-15","p":1.0476,"k":"lobox"},
{"d":"2023-07-06","p":1.0793,"k":"lobox"}
],
"head":[
{"d":"2022-07-21T12:00","p":1.1386,"t":"▾ EURUSD,Daily  1.05618 1.06174 1.05584 1.05988","k":"a"},
{"d":"2022-07-21T12:00","p":1.1354,"t":"scADR_Levels_v4","k":"a"},
{"d":"2022-07-21T12:00","p":1.1318,"t":"TF_Trend_Bars_v2","k":"b"}
],
"adr":[
{"d":"2022-11-29T02:00","p":1.1300,"label":"ADR","value":"88.1%","k":"red"},
{"d":"2023-01-07T14:00","p":1.1300,"label":"| Today:","value":"59","k":"green"},
{"d":"2023-02-12T12:00","p":1.1300,"label":"| 1 Day:","value":"88","k":"green"},
{"d":"2023-03-19T14:00","p":1.1300,"label":"| 5 Day:","value":"63","k":"green"},
{"d":"2023-04-26T07:00","p":1.1300,"label":"| 10 Day:","value":"60","k":"green"},
{"d":"2023-06-06T14:00","p":1.1300,"label":"| 20 Day:","value":"56","k":"green"}
],
"tf":[
{"tf":"M5","d1":"2023-12-05","d2":"2023-12-11","dm":"2023-12-08","state":"up"},
{"tf":"M15","d1":"2023-12-11T12:00","d2":"2023-12-17T12:00","dm":"2023-12-14T12:00","state":"down"},
{"tf":"M30","d1":"2023-12-18","d2":"2023-12-24","dm":"2023-12-21","state":"weak"},
{"tf":"H1","d1":"2023-12-24T12:00","d2":"2023-12-30T12:00","dm":"2023-12-27T12:00","state":"up"},
{"tf":"H4","d1":"2023-12-31","d2":"2024-01-06","dm":"2024-01-03","state":"up"},
{"tf":"D1","d1":"2024-01-06T12:00","d2":"2024-01-12T12:00","dm":"2024-01-09T12:00","state":"down"}
],
"info":[
{"d":"2024-01-04T05:00","p":1.1148,"label":"Spread","value":"0.7","k":"orange"},
{"d":"2024-01-04T05:00","p":1.1108,"label":"Pips to Open","value":"37","k":"green"},
{"d":"2024-01-04T05:00","p":1.1068,"label":"Hi to Low","value":"59","k":"orange"},
{"d":"2024-01-04T05:00","p":1.1028,"label":"Daily Av","value":"67","k":"red"}
],
"last":[
{"d":"2024-01-12T16:00","dt":"2024-01-19","dt2":"2024-02-05","p":1.05988,"p1":1.05808,"p2":1.06168}
]
},
"layer":[
{"data":{"name":"months"},"mark":{"type":"rule","strokeDash":[1,2],"color":"#6e6e6e","strokeWidth":0.6},
 "encoding":{"x":{"field":"d","type":"temporal"}}},
{"data":{"name":"zones"},"mark":{"type":"rect","color":"#9b08d4","clip":true},
 "encoding":{"x":{"field":"d1","type":"temporal"},"x2":{"field":"d2"},"y":{"field":"p1","type":"quantitative"},"y2":{"field":"p2"}}},
{"data":{"name":"levels"},"transform":[{"filter":{"not":{"field":"k","oneOf":["tr","mid"]}}}],
 "mark":{"type":"rule","strokeWidth":0.8},
 "encoding":{"y":{"field":"p","type":"quantitative"},
  "color":{"field":"k","type":"nominal","legend":null,"scale":{"domain":["ob","ur","sr","wr","us","os","eos"],"range":["#b4b4b4","#2f8fc0","#c9a000","#c8453a","#2fa8c8","#c8c8c8","#e8e8e8"]}}}},
{"data":{"name":"levels"},"transform":[{"filter":{"field":"k","oneOf":["tr","mid"]}}],
 "mark":{"type":"rule","strokeWidth":2},
 "encoding":{"y":{"field":"p","type":"quantitative"},
  "color":{"field":"k","type":"nominal","legend":null,"scale":{"domain":["tr","mid"],"range":["#4a7a10","#0e8f96"]}}}},
{"data":{"name":"candles"},"mark":{"type":"rule","strokeWidth":0.6},
 "encoding":{
  "x":{"field":"d","type":"temporal","scale":{"domain":[{"year":2022,"month":7,"date":20},{"year":2024,"month":1,"date":19}]},
   "axis":{"title":null,"values":[{"year":2022,"month":7,"date":22},{"year":2022,"month":8,"date":10},{"year":2022,"month":8,"date":29},{"year":2022,"month":9,"date":16},{"year":2022,"month":10,"date":5},{"year":2022,"month":10,"date":24},{"year":2022,"month":11,"date":11},{"year":2022,"month":11,"date":30},{"year":2022,"month":12,"date":19},{"year":2023,"month":1,"date":6},{"year":2023,"month":1,"date":26},{"year":2023,"month":2,"date":14},{"year":2023,"month":3,"date":5},{"year":2023,"month":3,"date":23},{"year":2023,"month":4,"date":11},{"year":2023,"month":4,"date":28},{"year":2023,"month":5,"date":16},{"year":2023,"month":6,"date":4},{"year":2023,"month":6,"date":25},{"year":2023,"month":7,"date":12},{"year":2023,"month":8,"date":1},{"year":2023,"month":8,"date":20},{"year":2023,"month":9,"date":7},{"year":2023,"month":9,"date":26}],
    "labels":false,"tickSize":1.5,"grid":false}},
  "y":{"field":"l","type":"quantitative","scale":{"domain":[0.94476,1.14123],"zero":false,"nice":false},
   "axis":{"title":null,"orient":"right","values":[1.1364,1.1278,1.1192,1.1106,1.102,1.0934,1.0848,1.0762,1.0676,1.059,1.0504,1.0418,1.0332,1.0246,1.016,1.0074,0.9988,0.9902,0.9816,0.973,0.9644,0.9558,0.9472],
    "labels":false,"grid":true,"gridColor":"#4a4a4a","gridDash":[1,2],"gridWidth":0.5}},
  "y2":{"field":"h"},
  "color":{"condition":{"test":"datum.c >= datum.o","value":"#dcdcdc"},"value":"#e8b0b0"}}},
{"data":{"name":"candles"},"mark":{"type":"bar","width":1.1},
 "encoding":{"x":{"field":"d","type":"temporal"},"y":{"field":"o","type":"quantitative"},"y2":{"field":"c"},
  "color":{"condition":{"test":"datum.c >= datum.o","value":"#d8f5c8"},"value":"#f4a0a0"}}},
{"data":{"name":"marks"},
 "encoding":{"x":{"field":"d","type":"temporal"},"y":{"field":"p","type":"quantitative"}},
 "layer":[
  {"transform":[{"filter":"datum.k == 'hi'"}],"mark":{"type":"point","shape":"circle","filled":false,"stroke":"#2ec8dc","strokeWidth":0.8,"size":18,"opacity":1}},
  {"transform":[{"filter":"datum.k == 'hi'"}],"mark":{"type":"point","shape":"circle","filled":true,"fill":"#2ec8dc","size":2,"opacity":1}},
  {"transform":[{"filter":"datum.k == 'lo'"}],"mark":{"type":"point","shape":"circle","filled":false,"stroke":"#e02020","strokeWidth":0.8,"size":18,"opacity":1}},
  {"transform":[{"filter":"datum.k == 'lo'"}],"mark":{"type":"point","shape":"circle","filled":true,"fill":"#e02020","size":2,"opacity":1}},
  {"transform":[{"filter":"datum.k == 'hibox'"}],"mark":{"type":"square","size":40,"fill":"#0d5f70","stroke":"#30d0e8","strokeWidth":0.8,"opacity":1}},
  {"transform":[{"filter":"datum.k == 'hibox'"}],"mark":{"type":"square","size":6,"fill":"#90f0ff","opacity":1}},
  {"transform":[{"filter":"datum.k == 'lobox'"}],"mark":{"type":"square","size":40,"fill":"#cc0000","stroke":"#ff3030","strokeWidth":0.8,"opacity":1}},
  {"transform":[{"filter":"datum.k == 'lobox'"}],"mark":{"type":"point","shape":"circle","filled":true,"fill":"#ffc0c0","size":6,"opacity":1}}
 ]},
{"data":{"name":"levels"},
 "mark":{"type":"text","align":"center","baseline":"top","dy":0.6,"fontSize":3.6,"font":"Liberation Sans"},
 "encoding":{"x":{"datum":{"year":2023,"month":8,"date":13},"type":"temporal"},"y":{"field":"p","type":"quantitative"},"text":{"field":"label"},
  "color":{"field":"k","type":"nominal","legend":null,"scale":{"domain":["ob","ur","sr","wr","tr","mid","us","os","eos"],"range":["#e4c8ff","#38c4e4","#d8ae24","#d85a48","#80c430","#44d0e8","#8a98ff","#e0e0e0","#f2f2f2"]}}}},
{"data":{"name":"xlabels"},
 "mark":{"type":"text","align":"left","baseline":"middle","dx":0.3,"fontSize":3.2,"color":"#d0d0d0","font":"Liberation Sans"},
 "encoding":{"x":{"field":"d","type":"temporal"},"y":{"datum":0.9421,"type":"quantitative"},"text":{"field":"d","type":"temporal","format":"%-d %b %Y"}}},
{"data":{"name":"ylabels"},
 "mark":{"type":"text","align":"left","baseline":"middle","dx":3,"fontSize":3.4,"color":"#d0d0d0","font":"Liberation Sans"},
 "encoding":{"x":{"datum":{"year":2024,"month":1,"date":19},"type":"temporal"},"y":{"field":"p","type":"quantitative"},"text":{"field":"p","type":"quantitative","format":".5f"}}},
{"data":{"name":"head"},
 "mark":{"type":"text","align":"left","baseline":"middle","fontSize":3.4,"font":"Liberation Sans"},
 "encoding":{"x":{"field":"d","type":"temporal"},"y":{"field":"p","type":"quantitative"},"text":{"field":"t"},
  "color":{"field":"k","type":"nominal","legend":null,"scale":{"domain":["a","b"],"range":["#e0e0e0","#808080"]}}}},
{"data":{"name":"adr"},
 "encoding":{"x":{"field":"d","type":"temporal"},"y":{"field":"p","type":"quantitative"}},
 "layer":[
  {"mark":{"type":"text","align":"right","baseline":"middle","dx":-1,"fontSize":5,"color":"#d8d8d8","font":"Liberation Sans"},"encoding":{"text":{"field":"label"}}},
  {"mark":{"type":"text","align":"left","baseline":"middle","dx":1,"fontSize":5,"font":"Liberation Sans"},"encoding":{"text":{"field":"value"},
    "color":{"field":"k","type":"nominal","legend":null,"scale":{"domain":["red","green"],"range":["#ff2a2a","#3cb043"]}}}}
 ]},
{"data":{"name":"tf"},
 "layer":[
  {"mark":{"type":"rect","stroke":"#000000","strokeWidth":0.4},
   "encoding":{"x":{"field":"d1","type":"temporal"},"x2":{"field":"d2"},"y":{"datum":1.1332,"type":"quantitative"},"y2":{"datum":1.1276},
    "color":{"field":"state","type":"nominal","legend":null,"scale":{"domain":["up","down","weak"],"range":["#10c020","#d01010","#e04818"]}}}},
  {"mark":{"type":"text","align":"center","baseline":"middle","fontSize":3.4,"color":"#c8c8c8","font":"Liberation Sans"},
   "encoding":{"x":{"field":"dm","type":"temporal"},"y":{"datum":1.1356,"type":"quantitative"},"text":{"field":"tf"}}}
 ]},
{"data":{"values":[{"d":"2023-11-30T14:00","t":"M1","s":"⇅"}]},
 "layer":[
  {"mark":{"type":"text","align":"center","baseline":"middle","fontSize":3.4,"color":"#c8c8c8","font":"Liberation Sans"},
   "encoding":{"x":{"field":"d","type":"temporal"},"y":{"datum":1.1356,"type":"quantitative"},"text":{"field":"t"}}},
  {"mark":{"type":"text","align":"center","baseline":"middle","fontSize":4.5,"color":"#a0a0a0","font":"DejaVu Sans"},
   "encoding":{"x":{"field":"d","type":"temporal"},"y":{"datum":1.1314,"type":"quantitative"},"text":{"field":"s"}}}
 ]},
{"data":{"name":"info"},
 "encoding":{"x":{"field":"d","type":"temporal"},"y":{"field":"p","type":"quantitative"}},
 "layer":[
  {"mark":{"type":"text","align":"right","baseline":"middle","dx":-1.5,"fontSize":5.2,"color":"#d8d8d8","font":"Liberation Sans"},"encoding":{"text":{"field":"label"}}},
  {"mark":{"type":"text","align":"left","baseline":"middle","dx":1.5,"fontSize":5.2,"font":"Liberation Sans"},"encoding":{"text":{"field":"value"},
    "color":{"field":"k","type":"nominal","legend":null,"scale":{"domain":["orange","green","red"],"range":["#ff8c00","#7cdc20","#ff4020"]}}}}
 ]},
{"data":{"name":"last"},
 "layer":[
  {"mark":{"type":"text","align":"right","baseline":"middle","fontSize":14,"color":"#ff0000","font":"Liberation Sans"},
   "encoding":{"x":{"field":"d","type":"temporal"},"y":{"datum":1.1220,"type":"quantitative"},"text":{"field":"p","format":".5f"}}},
  {"mark":{"type":"rect","color":"#f0f0f0"},
   "encoding":{"x":{"field":"dt","type":"temporal"},"x2":{"field":"dt2"},"y":{"field":"p1","type":"quantitative"},"y2":{"field":"p2"}}},
  {"mark":{"type":"text","align":"left","baseline":"middle","dx":1,"fontSize":3.3,"color":"#000000","font":"Liberation Sans"},
   "encoding":{"x":{"field":"dt","type":"temporal"},"y":{"field":"p","type":"quantitative"},"text":{"field":"p","format":".5f"}}}
 ]}
]
}
